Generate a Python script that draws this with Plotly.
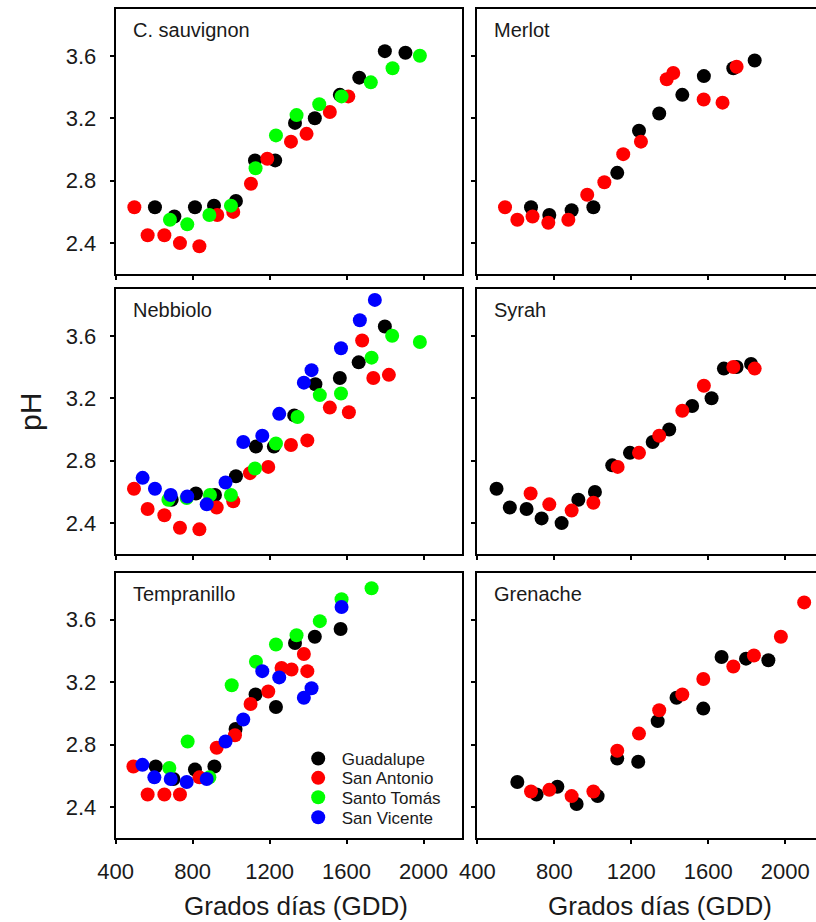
import plotly.graph_objects as go

# ---------------- data (GDD, pH) ----------------
sites = ["Guadalupe", "San Antonio", "Santo Tomás", "San Vicente"]
site_colors = ["#000000", "#ff0000", "#00ff00", "#0000ff"]

x_ticks = [400, 800, 1200, 1600, 2000]
y_ticks = [2.4, 2.8, 3.2, 3.6]

# C. sauvignon
cs_gua_x = [604, 705, 812, 911, 1025, 1124, 1229, 1332, 1435, 1565, 1666, 1799, 1906]
cs_gua_y = [2.63, 2.57, 2.63, 2.64, 2.67, 2.93, 2.93, 3.17, 3.20, 3.35, 3.46, 3.63, 3.62]
cs_san_x = [497, 566, 653, 734, 835, 928, 1011, 1103, 1188, 1311, 1392, 1513, 1609]
cs_san_y = [2.63, 2.45, 2.45, 2.40, 2.38, 2.58, 2.60, 2.78, 2.94, 3.05, 3.10, 3.24, 3.34]
cs_sto_x = [682, 772, 887, 999, 1127, 1233, 1340, 1458, 1574, 1726, 1839, 1981]
cs_sto_y = [2.55, 2.52, 2.58, 2.64, 2.88, 3.09, 3.22, 3.29, 3.34, 3.43, 3.52, 3.60]

# Merlot
me_gua_x = [679, 774, 890, 1003, 1127, 1240, 1345, 1465, 1577, 1730, 1841]
me_gua_y = [2.63, 2.58, 2.61, 2.63, 2.85, 3.12, 3.23, 3.35, 3.47, 3.52, 3.57]
me_san_x = [544, 608, 687, 769, 873, 971, 1060, 1158, 1250, 1384, 1418, 1576, 1674, 1747]
me_san_y = [2.63, 2.55, 2.57, 2.53, 2.55, 2.71, 2.79, 2.97, 3.05, 3.45, 3.49, 3.32, 3.30, 3.53]

# Nebbiolo
ne_gua_x = [691, 817, 916, 1025, 1129, 1222, 1328, 1438, 1565, 1663, 1799]
ne_gua_y = [2.55, 2.59, 2.58, 2.70, 2.89, 2.89, 3.09, 3.29, 3.33, 3.43, 3.66]
ne_san_x = [495, 566, 653, 734, 835, 925, 1011, 1098, 1193, 1311, 1396, 1513, 1612, 1681, 1739, 1820]
ne_san_y = [2.62, 2.49, 2.45, 2.37, 2.36, 2.50, 2.54, 2.72, 2.76, 2.90, 2.93, 3.14, 3.11, 3.57, 3.33, 3.35]
ne_sto_x = [674, 769, 890, 999, 1124, 1233, 1345, 1461, 1571, 1730, 1837, 1981]
ne_sto_y = [2.55, 2.56, 2.58, 2.58, 2.75, 2.91, 3.08, 3.22, 3.23, 3.46, 3.60, 3.56]
ne_svi_x = [540, 604, 686, 772, 873, 971, 1063, 1162, 1250, 1378, 1418, 1571, 1669, 1747]
ne_svi_y = [2.69, 2.62, 2.58, 2.57, 2.52, 2.66, 2.92, 2.96, 3.10, 3.30, 3.38, 3.52, 3.70, 3.83]

# Syrah
sy_gua_x = [500, 569, 656, 734, 838, 925, 1011, 1101, 1193, 1311, 1397, 1516, 1617, 1681, 1747, 1822]
sy_gua_y = [2.62, 2.50, 2.49, 2.43, 2.40, 2.55, 2.60, 2.77, 2.85, 2.92, 3.00, 3.15, 3.20, 3.39, 3.40, 3.42]
sy_san_x = [677, 774, 890, 1003, 1129, 1240, 1345, 1465, 1577, 1730, 1841]
sy_san_y = [2.59, 2.52, 2.48, 2.53, 2.76, 2.85, 2.96, 3.12, 3.28, 3.40, 3.39]

# Tempranillo
te_gua_x = [608, 700, 812, 913, 1023, 1127, 1233, 1332, 1435, 1569]
te_gua_y = [2.66, 2.58, 2.64, 2.66, 2.90, 3.12, 3.04, 3.45, 3.49, 3.54]
te_san_x = [492, 566, 653, 734, 835, 925, 1020, 1101, 1193, 1262, 1314, 1378, 1396]
te_san_y = [2.66, 2.48, 2.48, 2.48, 2.59, 2.78, 2.86, 3.06, 3.14, 3.29, 3.28, 3.38, 3.27]
te_sto_x = [679, 774, 887, 1003, 1129, 1233, 1340, 1461, 1574, 1730]
te_sto_y = [2.65, 2.82, 2.59, 3.18, 3.33, 3.44, 3.50, 3.59, 3.73, 3.80]
te_svi_x = [539, 601, 686, 769, 873, 971, 1063, 1162, 1250, 1378, 1418, 1574]
te_svi_y = [2.67, 2.59, 2.58, 2.56, 2.58, 2.82, 2.96, 3.27, 3.23, 3.10, 3.16, 3.68]

# Grenache
gr_gua_x = [608, 708, 816, 916, 1025, 1127, 1236, 1337, 1435, 1574, 1669, 1796, 1912]
gr_gua_y = [2.56, 2.48, 2.53, 2.42, 2.47, 2.71, 2.69, 2.95, 3.10, 3.03, 3.36, 3.35, 3.34]
gr_san_x = [679, 774, 890, 1003, 1127, 1240, 1345, 1465, 1574, 1730, 1837, 1977, 2098]
gr_san_y = [2.50, 2.51, 2.47, 2.50, 2.76, 2.87, 3.02, 3.12, 3.22, 3.30, 3.37, 3.49, 3.71]

panel_names = ["C. sauvignon", "Merlot", "Nebbiolo", "Syrah", "Tempranillo", "Grenache"]
panel_series = [
    [(0, cs_gua_x, cs_gua_y), (1, cs_san_x, cs_san_y), (2, cs_sto_x, cs_sto_y)],
    [(0, me_gua_x, me_gua_y), (1, me_san_x, me_san_y)],
    [(0, ne_gua_x, ne_gua_y), (1, ne_san_x, ne_san_y), (2, ne_sto_x, ne_sto_y), (3, ne_svi_x, ne_svi_y)],
    [(0, sy_gua_x, sy_gua_y), (1, sy_san_x, sy_san_y)],
    [(0, te_gua_x, te_gua_y), (1, te_san_x, te_san_y), (2, te_sto_x, te_sto_y), (3, te_svi_x, te_svi_y)],
    [(0, gr_gua_x, gr_gua_y), (1, gr_san_x, gr_san_y)],
]

# ---------------- layout geometry ----------------
W, H = 816, 922
FONT = "Liberation Sans, Arial, sans-serif"
TXT = "#1a1a1a"

col_px = [(115.7, 462.0), (477.3, 816.0)]
row_px = [(9.0, 274.3), (289.0, 554.3), (572.7, 838.3)]
x_ranges = [[400, 2200], [400, 400 + (816.0 - 477.3) / 77.0 * 400]]
y_range = [2.2, 3.9]

fig = go.Figure()
legend_ids = ["legend", "legend2", "legend3", "legend4"]

for p in range(6):
    r, c = divmod(p, 2)
    ax = "" if p == 0 else str(p + 1)
    for (s, xs, ys) in panel_series[p]:
        show = (p == 4)
        fig.add_trace(go.Scatter(
            x=xs, y=ys, mode="markers", name=sites[s],
            xaxis="x" + ax, yaxis="y" + ax,
            marker=dict(color=site_colors[s], size=14, line=dict(width=0)),
            showlegend=show, legend=legend_ids[s], legendgroup=sites[s],
        ))
    x0, x1 = col_px[c]
    y0, y1 = row_px[r]
    xd = [x0 / W, x1 / W]
    yd = [1 - y1 / H, 1 - y0 / H]
    fig.layout["xaxis" + ax] = dict(
        domain=xd, range=x_ranges[c], anchor="y" + ax, automargin=False,
        showline=True, linewidth=2, linecolor="black", mirror=True,
        ticks="outside", ticklen=4, tickwidth=1.5, tickcolor="black",
        tickvals=x_ticks, showgrid=False, zeroline=False,
        showticklabels=(r == 2), ticklabelstandoff=8,
        tickfont=dict(family=FONT, size=22, color=TXT),
    )
    fig.layout["yaxis" + ax] = dict(
        domain=yd, range=y_range, anchor="x" + ax, automargin=False,
        showline=True, linewidth=2, linecolor="black", mirror=(c == 0),
        ticks="outside", ticklen=4, tickwidth=1.5, tickcolor="black",
        tickvals=y_ticks, tickformat=".1f", showgrid=False, zeroline=False,
        showticklabels=(c == 0), ticklabelstandoff=9,
        tickfont=dict(family=FONT, size=22, color=TXT),
    )
    fig.add_annotation(
        text=panel_names[p], xref="paper", yref="paper",
        x=(x0 + 15) / W, y=1 - (y0 + 21) / H, xanchor="left", yanchor="middle",
        showarrow=False, font=dict(family=FONT, size=20, color=TXT),
    )

# axis titles
for cx in [295.5, 659.7]:
    fig.add_annotation(text="Grados días (GDD)", xref="paper", yref="paper",
                       x=cx / W, y=1 - 906 / H, xanchor="center", yanchor="middle",
                       showarrow=False, font=dict(family=FONT, size=26, color=TXT))
fig.add_annotation(text="pH", xref="paper", yref="paper", x=30 / W, y=1 - 412 / H,
                   xanchor="center", yanchor="middle", textangle=-90,
                   showarrow=False, font=dict(family=FONT, size=30, color=TXT))

# legends (one per site, stacked)
leg_rows = [759.0, 778.3, 797.7, 817.7]
for i, lid in enumerate(legend_ids):
    fig.layout[lid] = dict(
        x=(315.7 - 21) / W, y=1 - leg_rows[i] / H, xanchor="left", yanchor="middle",
        bgcolor="rgba(0,0,0,0)", borderwidth=0,
        font=dict(family=FONT, size=17, color=TXT),
        itemwidth=37,
    )

fig.update_layout(
    width=W, height=H, margin=dict(l=0, r=0, t=0, b=0),
    plot_bgcolor="white", paper_bgcolor="white",
)

fig.write_html("out.html")
